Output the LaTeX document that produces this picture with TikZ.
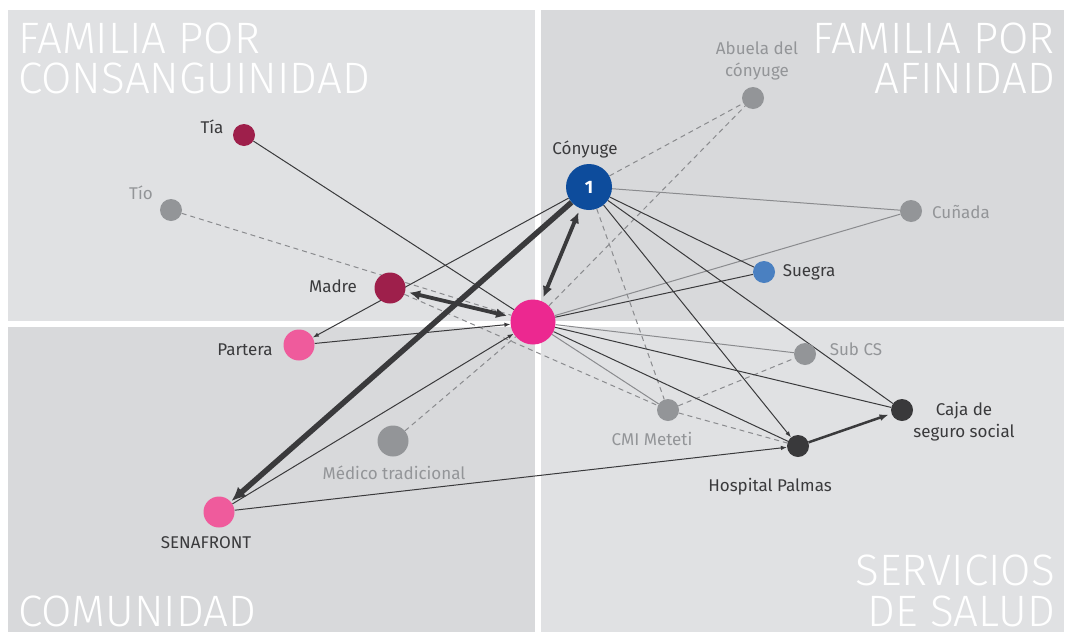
\documentclass[tikz,border=0pt]{standalone}
\usepackage{fontspec}
\setmainfont{Fira Sans}
\newfontfamily\titlefont{Fira Sans Light}
\usetikzlibrary{arrows.meta}
\definecolor{panelA}{HTML}{E0E1E3}
\definecolor{panelB}{HTML}{D8D9DB}
\definecolor{edgedark}{HTML}{3A3A3C}
\definecolor{edgegray}{HTML}{8A8B8E}
\definecolor{nodegray}{HTML}{939598}
\definecolor{crimson}{HTML}{9E1F4B}
\definecolor{softpink}{HTML}{EF5B9C}
\definecolor{egopink}{HTML}{EC2890}
\definecolor{conyblue}{HTML}{0D4C9C}
\definecolor{suegblue}{HTML}{4A80C1}
\definecolor{darknode}{HTML}{39393B}
\definecolor{txtdark}{HTML}{3A3A3C}
\definecolor{txtgray}{HTML}{939598}
\pgfdeclarelayer{bg}
\pgfdeclarelayer{edges}
\pgfsetlayers{bg,edges,main}
\tikzset{
  sm/.style={circle,inner sep=0pt,minimum size=22pt},
  md/.style={circle,inner sep=0pt,minimum size=31pt},
  lg/.style={circle,inner sep=0pt,minimum size=46pt},
  lbl/.style={font=\fontsize{17}{22}\selectfont,text=txtdark,inner sep=0pt,align=center},
  glbl/.style={lbl,text=txtgray},
  ttl/.style={font=\titlefont\fontsize{44}{40}\selectfont,text=white,inner sep=0pt,text depth=0pt},
  dk/.style={draw=edgedark,line width=1pt},
  gy/.style={draw=edgegray,line width=1pt},
  ds/.style={draw=edgegray,line width=1pt,dash pattern=on 5pt off 4pt},
  atip/.style={-{Latex[length=6pt,width=4.5pt]}},
  dbl/.style={draw=edgedark,line width=3.8pt,{Latex[length=11pt,width=10pt]}-{Latex[length=11pt,width=10pt]},shorten <=4pt,shorten >=4pt},
}
\begin{document}
\begin{tikzpicture}[x=1pt,y=-1pt]
\useasboundingbox (0,0) rectangle (1067,632);
\begin{pgfonlayer}{bg}
\fill[white] (0,0) rectangle (1067,632);
\fill[panelA] (8,10) rectangle (535,321);
\fill[panelB] (541,10) rectangle (1064,321);
\fill[panelB] (8,327) rectangle (535,632);
\fill[panelA] (541,327) rectangle (1064,632);
\node[ttl,anchor=base west] (t1a) at (18,53) {FAMILIA POR};
\node[ttl,anchor=base west] (t1b) at (18,93) {CONSANGUINIDAD};
\node[ttl,anchor=base east] (t2a) at (1055,53) {FAMILIA POR};
\node[ttl,anchor=base east] (t2b) at (1055,93) {AFINIDAD};
\node[ttl,anchor=base west] (t3) at (18,626) {COMUNIDAD};
\node[ttl,anchor=base east] (t4a) at (1055,585) {SERVICIOS};
\node[ttl,anchor=base east] (t4b) at (1055,626) {DE SALUD};
\end{pgfonlayer}

% nodes
\node[sm,fill=crimson] (tia) at (244,135) {};
\node[sm,fill=nodegray] (tio) at (171,210) {};
\node[md,fill=crimson] (madre) at (390,288) {};
\node[md,fill=softpink] (partera) at (299,345) {};
\node[md,fill=softpink] (senaf) at (219,512) {};
\node[md,fill=nodegray] (medico) at (393,441) {};
\node[lg,fill=egopink,minimum size=45pt] (ego) at (533,322) {};
\node[lg,fill=conyblue,text=white,font=\bfseries\fontsize{18}{18}\selectfont] (cony) at (589,187) {1};
\node[sm,fill=nodegray] (abuela) at (753,98) {};
\node[sm,fill=nodegray] (cunada) at (911,211) {};
\node[sm,fill=suegblue] (suegra) at (764,272) {};
\node[sm,fill=nodegray] (subcs) at (805,354) {};
\node[sm,fill=nodegray] (cmi) at (668,410) {};
\node[sm,fill=darknode] (hosp) at (798,446) {};
\node[sm,fill=darknode] (caja) at (902,410) {};

% labels
\node[lbl] (l-tia) at (212,127) {Tía};
\node[glbl] (l-tio) at (141,193) {Tío};
\node[lbl] (l-madre) at (333,286) {Madre};
\node[lbl] (l-partera) at (245,350) {Partera};
\node[lbl] (l-senaf) at (206,543) {SENAFRONT};
\node[glbl] (l-medico) at (394,473) {Médico tradicional};
\node[lbl] (l-cony) at (585,149) {Cónyuge};
\node[glbl] (l-abuela) at (757,61) {Abuela del\\cónyuge};
\node[glbl] (l-cunada) at (961,212) {Cuñada};
\node[lbl] (l-suegra) at (809,272) {Suegra};
\node[glbl] (l-subcs) at (856,349) {Sub CS};
\node[glbl] (l-cmi) at (652,439) {CMI Meteti};
\node[lbl] (l-hosp) at (770,487) {Hospital Palmas};
\node[lbl] (l-caja) at (964,422) {Caja de\\seguro social};

\begin{pgfonlayer}{edges}
\draw[ds] (tio) -- (ego);
\draw[ds] (madre) -- (cmi);
\draw[ds] (cmi) -- (hosp);
\draw[ds] (cony) -- (abuela);
\draw[ds] (ego) -- (abuela);
\draw[ds] (cony) -- (cmi);
\draw[ds] (cmi) -- (subcs);
\draw[ds] (medico) -- (ego);
\draw[gy] (cony) -- (cunada);
\draw[gy] (ego) -- (cunada);
\draw[gy] (ego) -- (subcs);
\draw[gy] (ego) -- (cmi);
\draw[dk] (tia) -- (ego);
\draw[dk] (cony) -- (suegra);
\draw[dk] (ego) -- (suegra);
\draw[dk] (ego) -- (hosp);
\draw[dk] (ego) -- (caja);
\draw[dk] (cony) -- (caja);
\draw[dk,atip] (cony) -- (hosp);
\draw[dk,atip] (cony) -- (partera);
\draw[dk,atip] (partera) -- (ego);
\draw[dk,atip] (senaf) -- (ego);
\draw[dk,atip] (senaf) -- (hosp);
\draw[dbl] (cony) -- (ego);
\draw[dbl] (madre) -- (ego);
\draw[draw=edgedark,line width=2.5pt,-{Latex[length=9pt,width=7pt]},shorten >=3pt] (hosp) -- (caja);
\draw[draw=edgedark,line width=5.5pt,-{Latex[length=14pt,width=13pt]},shorten >=1pt] (cony) -- (senaf);
\end{pgfonlayer}
\end{tikzpicture}
\end{document}
